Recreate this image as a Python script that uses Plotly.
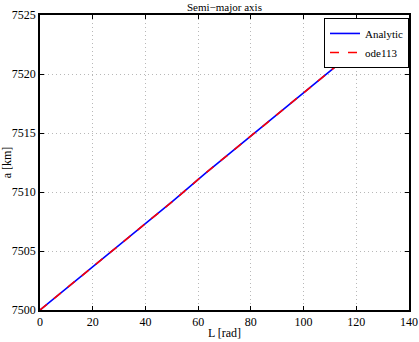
import plotly.graph_objects as go

L_rad = [0.0, 12.57, 25.13, 37.70, 50.27, 62.83, 75.40, 87.96, 100.53, 113.10, 125.66]
a_analytic = [7500.0, 7502.3, 7504.6, 7506.9, 7509.2, 7511.6, 7513.9, 7516.2, 7518.5, 7520.8, 7523.1]
a_ode113 = [7500.0, 7502.3, 7504.6, 7506.9, 7509.2, 7511.6, 7513.9, 7516.2, 7518.5, 7520.8, 7523.1]

x_ticks = [0, 20, 40, 60, 80, 100, 120, 140]
y_ticks = [7500, 7505, 7510, 7515, 7520, 7525]

FAM = "Liberation Serif"
font = dict(family=FAM, size=12, color="black")

fig = go.Figure()
fig.add_trace(go.Scatter(x=L_rad, y=a_analytic, mode="lines", name="Analytic",
                         line=dict(color="#0000ff", width=1.6)))
fig.add_trace(go.Scatter(x=L_rad, y=a_ode113, mode="lines", name="ode113",
                         line=dict(color="#ff0000", width=1.6, dash="dash")))

axis_common = dict(showline=True, linecolor="black", linewidth=1.5, mirror="ticks",
                   ticks="inside", ticklen=4, tickwidth=1, tickcolor="black",
                   showgrid=True, gridcolor="#b8b8b8", griddash="1px,3px", gridwidth=1,
                   zeroline=False, tickfont=font, automargin=False,
                   ticklabeloverflow="allow")

fig.update_layout(
    width=419, height=342,
    margin=dict(l=40, r=10, t=15, b=32),
    paper_bgcolor="white", plot_bgcolor="white",
    font=font,
    xaxis=dict(range=[0, 140], tickvals=x_ticks,
               title=dict(text="L [rad]", font=font, standoff=0), **axis_common),
    yaxis=dict(range=[7500, 7525], tickvals=y_ticks,
               title=dict(text="a [km]", font=font, standoff=2), **axis_common),
    legend=dict(x=1, y=0.99, xanchor="right", yanchor="top",
                bgcolor="white", bordercolor="black", borderwidth=1,
                font=dict(family=FAM, size=11, color="black"),
                tracegroupgap=0, itemwidth=30),
    showlegend=True,
    annotations=[dict(text="Semi−major axis", x=0.5, y=1, xref="paper", yref="paper",
                      xanchor="center", yanchor="bottom", yshift=0, showarrow=False,
                      font=dict(family=FAM, size=11, color="black"))],
)

fig.write_html("out.html")
